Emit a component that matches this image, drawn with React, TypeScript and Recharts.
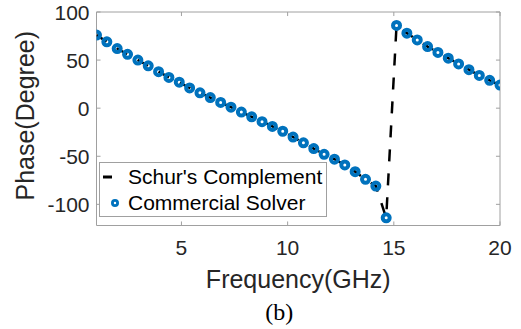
import {
  ComposedChart,
  Line,
  XAxis,
  YAxis,
  Legend,
  ReferenceArea,
  ReferenceLine,
} from "recharts";

// frequency samples (GHz), 40 points from 1 to 20
const freq = [
  1.0, 1.487, 1.974, 2.462, 2.949, 3.436, 3.923, 4.41, 4.897, 5.385,
  5.872, 6.359, 6.846, 7.333, 7.821, 8.308, 8.795, 9.282, 9.769, 10.256,
  10.744, 11.231, 11.718, 12.205, 12.692, 13.179, 13.667, 14.154, 14.641, 15.128,
  15.615, 16.103, 16.59, 17.077, 17.564, 18.051, 18.538, 19.026, 19.513, 20.0,
];

// phase (degree) from Schur's complement
const schurPhase = [
  76, 69, 62, 56, 50, 44, 38, 32, 27, 21,
  16, 11, 6, 1, -4, -9, -14, -19, -24, -30,
  -36, -42, -48, -53, -59, -66, -74, -81, -114, 86,
  78, 71, 64, 58, 52, 46, 40, 34, 29, 24,
];

// phase (degree) from the commercial solver
const solverPhase = [
  76, 69, 62, 56, 50, 44, 38, 32, 27, 21,
  16, 11, 6, 1, -4, -9, -14, -19, -24, -30,
  -36, -42, -48, -53, -59, -66, -74, -81, -114, 86,
  78, 71, 64, 58, 52, 46, 40, 34, 29, 24,
];

const xTicks = [5, 10, 15, 20];
const yTicks = [-100, -50, 0, 50, 100];
const X_DOMAIN: [number, number] = [1, 20];
const Y_DOMAIN: [number, number] = [-122, 100];

const BLUE = "#0072BD";
const AXIS_GRAY = "#a0a0a0";
const TEXT = "#262626";
const FONT = "'Liberation Sans', Arial, Helvetica, sans-serif";

const data = freq.map((f, i) => ({ f, schur: schurPhase[i], solver: solverPhase[i] }));

// inner tick length in data units (≈4px)
const xTickLen = 0.19;
const yTickLen = 4.2;

function YLabel(props: any) {
  const vb = props.viewBox || { x: 0, y: 12, width: 96.5, height: 213.5 };
  const cx = 25;
  const cy = vb.y + vb.height / 2 - 3;
  return (
    <text
      x={cx}
      y={cy}
      transform={`rotate(-90, ${cx}, ${cy})`}
      textAnchor="middle"
      dominantBaseline="central"
      fontSize={25}
      fill={TEXT}
      fontFamily={FONT}
    >
      Phase(Degree)
    </text>
  );
}

function XLabel(props: any) {
  const vb = props.viewBox || { x: 96.5, y: 225.5, width: 403.5, height: 103.5 };
  const cx = vb.x + vb.width / 2;
  return (
    <g>
      <text x={cx} y={vb.y + 62.5} textAnchor="middle" fontSize={25} fill={TEXT} fontFamily={FONT}>
        Frequency(GHz)
      </text>
      <text
        x={cx - 19}
        y={vb.y + 94}
        textAnchor="middle"
        fontSize={24}
        fill="#000"
        fontFamily="'Liberation Serif', 'Times New Roman', serif"
      >
        (b)
      </text>
    </g>
  );
}

function LegendBox() {
  const row = { display: "flex", alignItems: "center", height: 26, whiteSpace: "nowrap" as const };
  return (
    <div
      style={{
        boxSizing: "border-box",
        width: 228,
        height: 55,
        border: `1px solid ${AXIS_GRAY}`,
        background: "#fff",
        fontFamily: FONT,
        fontSize: 21,
        color: "#000",
        paddingTop: 1,
      }}
    >
      <div style={row}>
        <svg width={28} height={26}>
          <line x1={3} x2={12} y1={13} y2={13} stroke="#000" strokeWidth={3} />
        </svg>
        <span>Schur's Complement</span>
      </div>
      <div style={row}>
        <svg width={28} height={26}>
          <circle cx={15} cy={13} r={2.6} fill="none" stroke={BLUE} strokeWidth={2.8} />
        </svg>
        <span>Commercial Solver</span>
      </div>
    </div>
  );
}

export default function App() {
  return (
    <div style={{ position: "fixed", left: 0, top: 0, width: 521, height: 329, background: "#fff", fontFamily: FONT }}>
      <ComposedChart width={521} height={329} data={data} margin={{ top: 12, right: 21, bottom: 0, left: 0 }}>
        <XAxis
          dataKey="f"
          type="number"
          domain={X_DOMAIN}
          ticks={xTicks}
          allowDataOverflow
          height={103.5}
          axisLine={false}
          tickLine={false}
          tickSize={0}
          tickMargin={15}
          tick={{ fontSize: 21, fill: TEXT, fontFamily: FONT }}
          label={{ content: <XLabel /> }}
        />
        <YAxis
          type="number"
          domain={Y_DOMAIN}
          ticks={yTicks}
          allowDataOverflow
          width={96.5}
          axisLine={false}
          tickLine={false}
          tickSize={0}
          tickMargin={7}
          tick={{ fontSize: 21, fill: TEXT, fontFamily: FONT }}
          label={{ content: <YLabel /> }}
        />
        <ReferenceArea
          x1={X_DOMAIN[0]}
          x2={X_DOMAIN[1]}
          y1={Y_DOMAIN[0]}
          y2={Y_DOMAIN[1]}
          fill="none"
          stroke={AXIS_GRAY}
          strokeWidth={1}
          ifOverflow="visible"
        />
        {xTicks.map((t) => (
          <ReferenceLine
            key={`xb${t}`}
            segment={[{ x: t, y: Y_DOMAIN[0] }, { x: t, y: Y_DOMAIN[0] + yTickLen }]}
            stroke={AXIS_GRAY}
            ifOverflow="visible"
          />
        ))}
        {xTicks.map((t) => (
          <ReferenceLine
            key={`xt${t}`}
            segment={[{ x: t, y: Y_DOMAIN[1] }, { x: t, y: Y_DOMAIN[1] - yTickLen }]}
            stroke={AXIS_GRAY}
            ifOverflow="visible"
          />
        ))}
        {yTicks.map((t) => (
          <ReferenceLine
            key={`yl${t}`}
            segment={[{ x: X_DOMAIN[0], y: t }, { x: X_DOMAIN[0] + xTickLen, y: t }]}
            stroke={AXIS_GRAY}
            ifOverflow="visible"
          />
        ))}
        {yTicks.map((t) => (
          <ReferenceLine
            key={`yr${t}`}
            segment={[{ x: X_DOMAIN[1], y: t }, { x: X_DOMAIN[1] - xTickLen, y: t }]}
            stroke={AXIS_GRAY}
            ifOverflow="visible"
          />
        ))}
        <Line
          dataKey="schur"
          name="Schur's Complement"
          stroke="#000"
          strokeWidth={2.5}
          strokeDasharray="12 12"
          dot={false}
          activeDot={false}
          isAnimationActive={false}
        />
        <Line
          dataKey="solver"
          name="Commercial Solver"
          stroke="none"
          dot={{ r: 3.5, fill: "none", stroke: BLUE, strokeWidth: 4 }}
          activeDot={false}
          isAnimationActive={false}
        />
        <Legend
          layout="vertical"
          align="center"
          verticalAlign="middle"
          content={<LegendBox />}
          wrapperStyle={{ left: 99, top: 162, width: 228, height: 55 }}
        />
      </ComposedChart>
    </div>
  );
}
